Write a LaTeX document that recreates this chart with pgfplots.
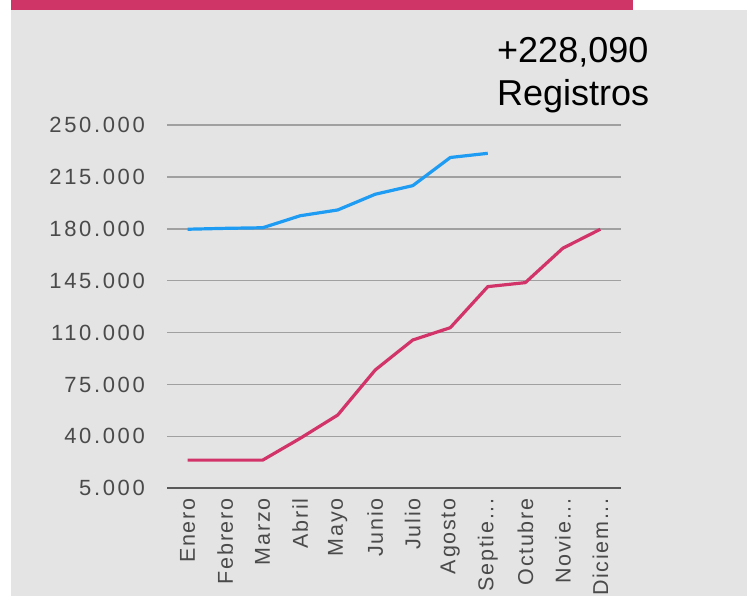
\documentclass[border=0pt]{standalone}
\usepackage{pgfplots}
\pgfplotsset{compat=1.18}
\usepackage{fontspec}
\setmainfont{Liberation Sans}
\newfontfamily\ytickfont[LetterSpace=12]{Liberation Sans}
\newfontfamily\xtickfont[LetterSpace=8]{Liberation Sans}
\newcommand\el{...}
\definecolor{bg}{HTML}{E4E4E4}
\definecolor{barpink}{HTML}{CF3567}
\definecolor{linepink}{HTML}{D2346A}
\definecolor{lineblue}{HTML}{1E9CF3}
\definecolor{gridgray}{HTML}{A0A0A0}
\definecolor{ticktext}{HTML}{4A4A4A}
\begin{document}
\begin{tikzpicture}[x=1pt,y=1pt]
\fill[white] (0,0) rectangle (747,596);
\fill[bg] (10.5,0) rectangle (747,586);
\fill[barpink] (10.5,586) rectangle (633,596);
\begin{axis}[
  at={(167pt,107.7pt)}, anchor=south west,
  scale only axis, width=454pt, height=363.3pt,
  xmin=-0.55, xmax=11.55, ymin=5000, ymax=250000,
  scaled y ticks=false,
  axis line style={draw=none},
  major tick length=0pt,
  xtick={0,1,2,3,4,5,6,7,8,9,10,11},
  xticklabels={Enero,Febrero,Marzo,Abril,Mayo,Junio,Julio,Agosto,Septie\el,Octubre,Novie\el,Diciem\el},
  ytick={5000,40000,75000,110000,145000,180000,215000,250000},
  yticklabels={5.000,40.000,75.000,110.000,145.000,180.000,215.000,250.000},
  ymajorgrids, grid style={gridgray, line width=1.5pt},
  tick label style={text=ticktext, inner sep=0pt},
  xticklabel style={rotate=90, anchor=east, font=\xtickfont\fontsize{21.5}{21.5}\selectfont},
  yticklabel style={anchor=east, font=\ytickfont\fontsize{22}{22}\selectfont},
  xticklabel shift=10pt,
  yticklabel shift=22pt,
  clip=false,
]
\draw[color=black!65, line width=1.8pt] (axis cs:-0.55,5000) -- (axis cs:11.55,5000);
\addplot[lineblue, line width=3.2pt, line join=round] coordinates {
(0,179700) (1,180300) (2,180700) (3,188800) (4,192700) (5,203300) (6,209100) (7,228090) (8,230900)};
\addplot[linepink, line width=3.2pt, line join=round] coordinates {
(0,24000) (1,24000) (2,24000) (3,38700) (4,54400) (5,84800) (6,105000) (7,113300) (8,141000) (9,143700) (10,166900) (11,179700)};
\end{axis}
\node[anchor=base west, inner sep=0pt, font=\fontsize{36}{36}\selectfont] at (497,533) {+228,090};
\node[anchor=base west, inner sep=0pt, font=\fontsize{36}{36}\selectfont] at (497,490) {Registros};
\end{tikzpicture}
\end{document}
